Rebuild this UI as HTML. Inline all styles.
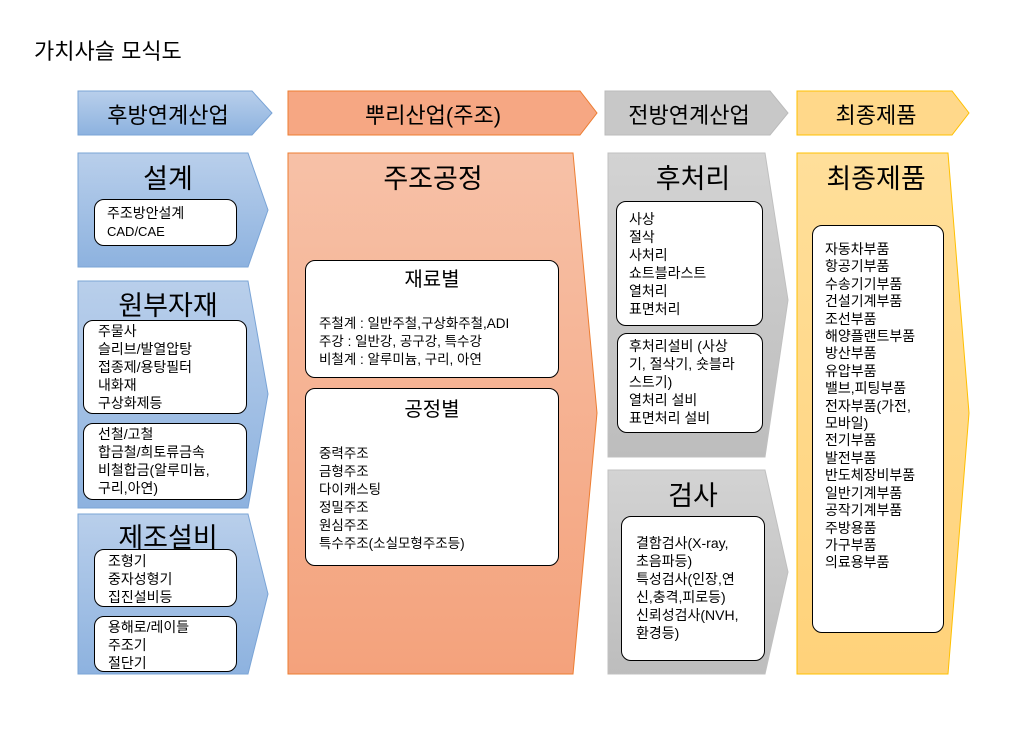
<!DOCTYPE html>
<html><head><meta charset="utf-8"><style>
body{margin:0;width:1021px;height:730px;background:#fff;position:relative;overflow:hidden;font-family:"Liberation Sans","Noto Sans CJK KR","NanumGothic",sans-serif;color:#000}
.t{position:absolute;white-space:nowrap}
.b{position:absolute;background:#fff;border:1px solid #000;border-radius:10px;box-sizing:border-box;font-size:14px;line-height:18px;white-space:nowrap}
.h{font-size:22px;text-align:center}
.tt{font-size:27px;text-align:center}
</style></head><body>
<svg width="1021" height="730" style="position:absolute;left:0;top:0">
<defs>
<linearGradient id="bl" x1="0" y1="0" x2="0" y2="1"><stop offset="0" stop-color="#b9cfeb"/><stop offset="1" stop-color="#8db2df"/></linearGradient>
<linearGradient id="or" x1="0" y1="0" x2="0" y2="1"><stop offset="0" stop-color="#f7c1a7"/><stop offset="1" stop-color="#f4a27c"/></linearGradient>
<linearGradient id="gr" x1="0" y1="0" x2="0" y2="1"><stop offset="0" stop-color="#d3d3d3"/><stop offset="1" stop-color="#bdbdbd"/></linearGradient>
<linearGradient id="ye" x1="0" y1="0" x2="0" y2="1"><stop offset="0" stop-color="#ffdf9a"/><stop offset="1" stop-color="#ffd27a"/></linearGradient>
</defs>
<g stroke-width="1">
<polygon points="78,91 252,91 272,113 252,135 78,135" fill="url(#bl)" stroke="#7aa4d6"/>
<polygon points="288,91 580,91 597,113 580,135 288,135" fill="#f6a783" stroke="#ed7d31"/>
<polygon points="605,91 770,91 788,113 770,135 605,135" fill="#c8c8c8" stroke="#bbb"/>
<polygon points="797,91 952,91 969,113 952,135 797,135" fill="#ffd88a" stroke="#ffc000"/>
<polygon points="78,153 248,153 268,210 248,267 78,267" fill="url(#bl)" stroke="#7aa4d6"/>
<polygon points="78,281 248,281 268,394 248,508 78,508" fill="url(#bl)" stroke="#7aa4d6"/>
<polygon points="78,514 248,514 268,594 248,674 78,674" fill="url(#bl)" stroke="#7aa4d6"/>
<polygon points="288,153 573,153 597,413 573,674 288,674" fill="url(#or)" stroke="#ed7d31"/>
<polygon points="608,153 765,153 788,300 765,457 608,457" fill="url(#gr)" stroke="#c0c0c0"/>
<polygon points="608,470 765,470 788,572 765,674 608,674" fill="url(#gr)" stroke="#c0c0c0"/>
<polygon points="797,153 948,153 969,413 948,674 797,674" fill="url(#ye)" stroke="#ffc000"/>
</g></svg>
<div class="t" style="left:34px;top:34px;font-size:22px">가치사슬 모식도</div>
<div class="t h" style="left:78px;top:98px;width:180px">후방연계산업</div>
<div class="t h" style="left:288px;top:98px;width:290px">뿌리산업(주조)</div>
<div class="t h" style="left:605px;top:98px;width:168px">전방연계산업</div>
<div class="t h" style="left:797px;top:98px;width:158px">최종제품</div>

<div class="t tt" style="left:78px;top:157px;width:180px">설계</div>
<div class="b" style="left:94px;top:199px;width:143px;height:47px;padding:4px 0 0 12px">주조방안설계<br><span style="font-size:13px">CAD/CAE</span></div>
<div class="t tt" style="left:78px;top:284px;width:180px">원부자재</div>
<div class="b" style="left:83px;top:320px;width:164px;height:94px;padding:1px 0 0 14px">주물사<br>슬리브/발열압탕<br>접종제/용탕필터<br>내화재<br>구상화제등</div>
<div class="b" style="left:83px;top:423px;width:164px;height:77px;padding:1px 0 0 14px">선철/고철<br>합금철/희토류금속<br>비철합금(알루미늄,<br>구리,아연)</div>
<div class="t tt" style="left:78px;top:516px;width:180px">제조설비</div>
<div class="b" style="left:94px;top:549px;width:143px;height:58px;padding:2px 0 0 13px">조형기<br>중자성형기<br>집진설비등</div>
<div class="b" style="left:94px;top:616px;width:143px;height:56px;padding:1px 0 0 13px">용해로/레이들<br>주조기<br>절단기</div>

<div class="t tt" style="left:288px;top:157px;width:290px">주조공정</div>
<div class="b" style="left:305px;top:260px;width:254px;height:118px;padding:54px 0 0 13px;font-size:13.5px"><div style="position:absolute;left:0;top:10px;width:100%;text-align:center;font-size:20px">재료별</div>주철계 : 일반주철,구상화주철,ADI<br>주강 : 일반강, 공구강, 특수강<br>비철계 : 알루미늄, 구리, 아연</div>
<div class="b" style="left:305px;top:388px;width:254px;height:178px;padding:56px 0 0 13px;font-size:13.5px"><div style="position:absolute;left:0;top:12px;width:100%;text-align:center;font-size:20px">공정별</div>중력주조<br>금형주조<br>다이캐스팅<br>정밀주조<br>원심주조<br>특수주조(소실모형주조등)</div>

<div class="t tt" style="left:608px;top:157px;width:170px">후처리</div>
<div class="b" style="left:616px;top:201px;width:147px;height:125px;padding:8px 0 0 12px">사상<br>절삭<br>사처리<br>쇼트블라스트<br>열처리<br>표면처리</div>
<div class="b" style="left:617px;top:333px;width:146px;height:100px;padding:3px 0 0 11px">후처리설비 (사상<br>기, 절삭기, 숏블라<br>스트기)<br>열처리 설비<br>표면처리 설비</div>
<div class="t tt" style="left:608px;top:474px;width:170px">검사</div>
<div class="b" style="left:621px;top:516px;width:144px;height:145px;padding:17px 0 0 14px">결함검사(X-ray,<br>초음파등)<br>특성검사(인장,연<br>신,충격,피로등)<br>신뢰성검사(NVH,<br>환경등)</div>

<div class="t tt" style="left:797px;top:157px;width:158px">최종제품</div>
<div class="b" style="left:812px;top:225px;width:132px;height:408px;padding:15px 0 0 12px;line-height:17.4px">자동차부품<br>항공기부품<br>수송기기부품<br>건설기계부품<br>조선부품<br>해양플랜트부품<br>방산부품<br>유압부품<br>밸브,피팅부품<br>전자부품(가전,<br>모바일)<br>전기부품<br>발전부품<br>반도체장비부품<br>일반기계부품<br>공작기계부품<br>주방용품<br>가구부품<br>의료용부품</div>
</body></html>
